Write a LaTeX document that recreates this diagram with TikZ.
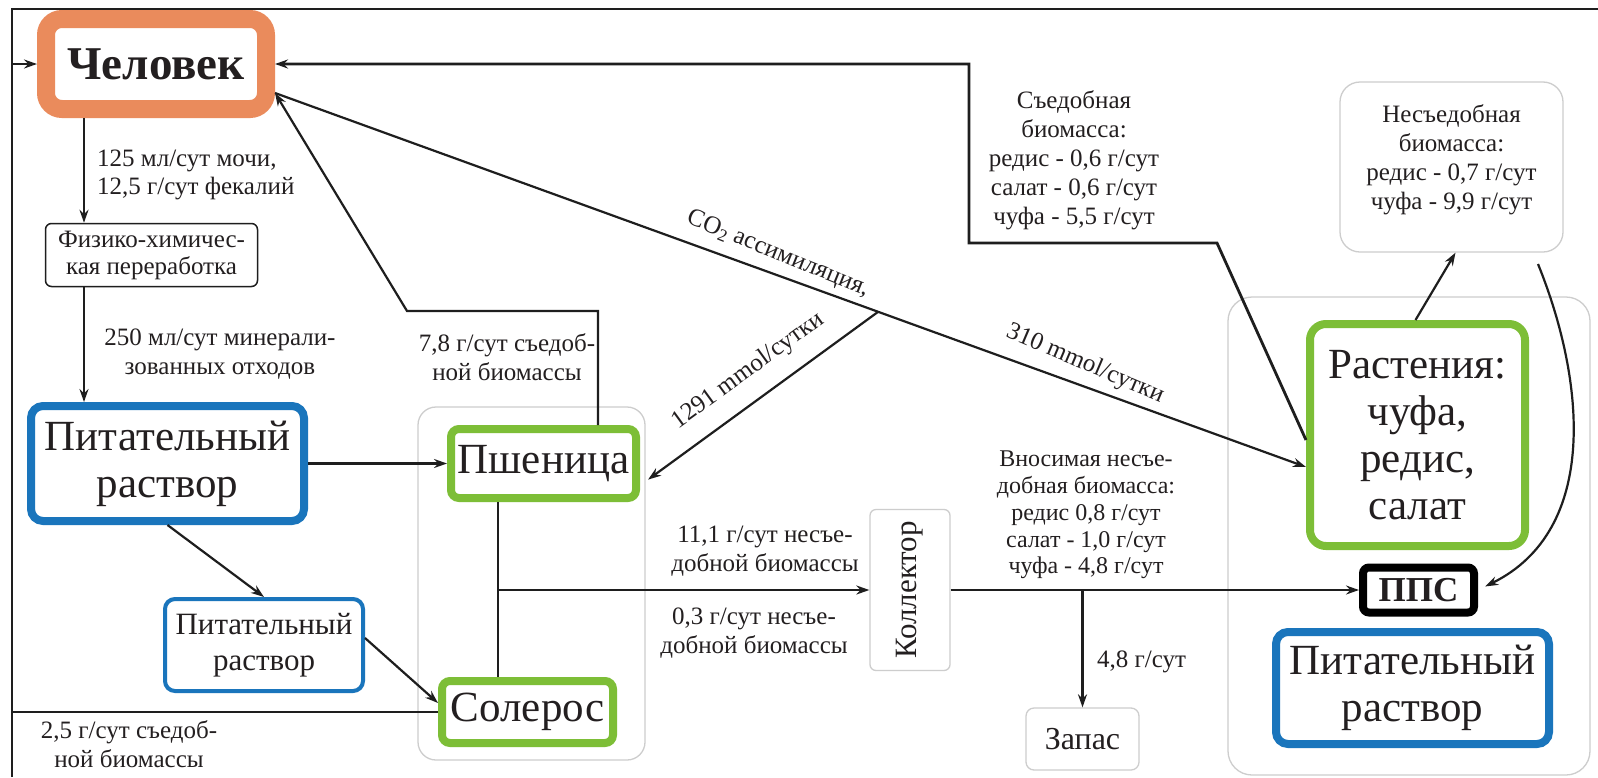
\documentclass[tikz,border=0pt]{standalone}
\usepackage{fontspec}
\setmainfont{Liberation Serif}
\newfontfamily\tms{Liberation Serif}
\usetikzlibrary{arrows.meta}
\definecolor{cor}{RGB}{234,139,92}
\definecolor{blu}{RGB}{26,117,188}
\definecolor{grn}{RGB}{125,190,55}
\definecolor{gry}{RGB}{205,205,205}
\definecolor{ln}{RGB}{30,30,30}
\definecolor{txt}{RGB}{35,31,32}
\begin{document}
\begin{tikzpicture}[x=1pt,y=-1pt,
  lab/.style={font=\tms\fontsize{25}{28.5}\selectfont, align=center, inner sep=0pt, text=txt},
  arr/.style={draw=ln, line width=2.2pt, -{Stealth[length=13pt,width=9pt]}},
  ln0/.style={draw=ln, line width=2.2pt},
  gbox/.style={draw=gry, line width=1.3pt, rounded corners=14pt, inner sep=0pt},
  big/.style={font=\tms\fontsize{43}{47}\selectfont, align=center, text=txt, inner sep=0pt},
  gbig/.style={draw=grn, line width=8pt, big},
  bbig/.style={draw=blu, line width=8pt, rounded corners=12pt, big}
]
\useasboundingbox (0,0) rectangle (1598,777);
\fill[white] (0,0) rectangle (1598,777);
\draw[ln0] (12,777) -- (12,9) -- (1598,9);

% group boxes
\node[gbox, rounded corners=18pt, minimum width=227pt, minimum height=353pt] (g1) at (531.5,583.5) {};
\node[gbox, rounded corners=24pt, minimum width=362pt, minimum height=478pt] (g2) at (1409,536) {};

% nodes
\node[draw=cor, line width=18pt, rounded corners=16pt, minimum width=220pt, minimum height=90pt,
      font=\tms\fontsize{47}{52}\selectfont\bfseries, text=txt, inner sep=0pt] (chel) at (156,64) {Человек};
\node[draw=ln, line width=1.5pt, rounded corners=6pt, minimum width=212pt, minimum height=63pt, lab,
      font=\tms\fontsize{25}{27}\selectfont] (fiz) at (151.5,255) {Физико-химичес-\\кая переработка};
\node[bbig, minimum width=273pt, minimum height=115pt] (pit1) at (167.5,463.5) {Питательный\\раствор};
\node[draw=blu, line width=4pt, rounded corners=10pt, minimum width=198pt, minimum height=92pt,
      font=\tms\fontsize{31}{36}\selectfont, align=center, text=txt, inner sep=0pt] (pit2) at (264,645) {Питательный\\раствор};
\node[gbig, rounded corners=8pt, minimum width=185pt, minimum height=69pt] (psh) at (543.5,463.5) {Пшеница};
\node[gbig, rounded corners=8pt, minimum width=171pt, minimum height=62pt] (sol) at (527.5,712) {Солерос};
\node[gbox, rounded corners=6pt, minimum width=80pt, minimum height=161pt] (koll) at (910,590) {};
\node[lab, rotate=90, font=\tms\fontsize{31}{34}\selectfont] (kollt) at (koll.center) {Коллектор};
\node[gbox, rounded corners=8pt, minimum width=113pt, minimum height=62pt, font=\tms\fontsize{32}{36}\selectfont, text=txt] (zap) at (1082.5,739) {Запас};
\node[gbig, rounded corners=16pt, minimum width=215pt, minimum height=222pt] (rast) at (1417.5,435) {Растения:\\чуфа,\\редис,\\салат};
\node[draw=black, line width=8pt, rounded corners=6pt, minimum width=111pt, minimum height=45pt,
      font=\tms\fontsize{35}{40}\selectfont\bfseries, text=txt, inner sep=0pt] (pps) at (1418.5,590) {ППС};
\node[bbig, minimum width=273pt, minimum height=112pt] (pit3) at (1412.5,688) {Питательный\\раствор};
\node[gbox, rounded corners=20pt, minimum width=223pt, minimum height=170pt] (nes) at (1451.5,167) {};
\node[lab, font=\tms\fontsize{25}{29}\selectfont] (nest) at (1451.5,160) {Несъедобная\\биомасса:\\редис - 0,7 г/сут\\чуфа - 9,9 г/сут};

% coordinates
\coordinate (x84) at (84,0);
\coordinate (x598) at (598,0);
\coordinate (pk) at (407,311);
\coordinate (s1) at (1217,243);
\coordinate (s2) at (969,243);
\coordinate (fl) at (12,712);
\coordinate (j) at (498,590);
\coordinate (cs) at (1538,264);

% connectors
\draw[arr] (chel.south -| x84) -- (fiz.north -| x84);
\draw[arr] (fiz.south -| x84) -- (pit1.north -| x84);
\draw[arr] (pit1.east) -- (psh.west);
\draw[arr] (pit1.south) -- (pit2.north);
\draw[arr] ([yshift=7pt]pit2.east) -- ([yshift=9pt]sol.west);
\draw[arr] (psh.north -| x598) |- (pk) -- ([yshift=25pt]chel.south east);
\draw[arr] ([yshift=25pt]chel.south east) -- coordinate[pos=0.585] (br) ([yshift=-32pt]rast.west);
\draw[arr, shorten >=10pt] (br) -- ([yshift=-22pt]psh.east);
\draw[arr, line width=2.8pt] ([yshift=-5pt]rast.west) -- (s1) -- (s2) |- (chel.east);
\draw[arr] (sol.west) -- (fl) |- (chel.west);
\draw[ln0] (psh.south -| j) -- (sol.north -| j);
\draw[arr] (j) -- (koll.west);
\draw[arr] (koll.east) -- (pps.west);
\draw[arr] (zap.north |- koll.east) -- (zap.north);
\draw[arr] ([xshift=-2pt]rast.north) -- ([xshift=4pt]nes.south);
\draw[arr, shorten >=8pt] (cs) .. controls (1585,380) and (1600,530) .. (pps.east);

% labels
\node[lab, align=left, anchor=west] (l1) at (97,175) {125 мл/сут мочи,\\12,5 г/сут фекалий};
\node[lab] (l2) at (220,354) {250 мл/сут минерали-\\зованных отходов};
\node[lab] (l3) at (507,357) {7,8 г/сут съедоб-\\ной биомассы};
\node[lab] (l4) at (129,744) {2,5 г/сут съедоб-\\ной биомассы};
\node[lab] (l5) at (765,551) {11,1 г/сут несъе-\\добной биомассы};
\node[lab] (l6) at (754,633) {0,3 г/сут несъе-\\добной биомассы};
\node[lab, font=\tms\fontsize{25}{29}\selectfont] (l7) at (1074,160) {Съедобная\\биомасса:\\редис - 0,6 г/сут\\салат - 0,6 г/сут\\чуфа - 5,5 г/сут};
\node[lab, font=\tms\fontsize{24}{26.8}\selectfont] (l8) at (1086,515) {Вносимая несъе-\\добная биомасса:\\редис 0,8 г/сут\\салат - 1,0 г/сут\\чуфа - 4,8 г/сут};
\node[lab, anchor=west] (l9) at (1097,662) {4,8 г/сут};
\node[lab, rotate=-22] (l10) at (778,254) {CO\textsubscript{2} ассимиляция,};
\node[lab, rotate=36] (l11) at (748,371) {1291 mmol/сутки};
\node[lab, rotate=-23] (l12) at (1085,364) {310 mmol/сутки};
\end{tikzpicture}
\end{document}
